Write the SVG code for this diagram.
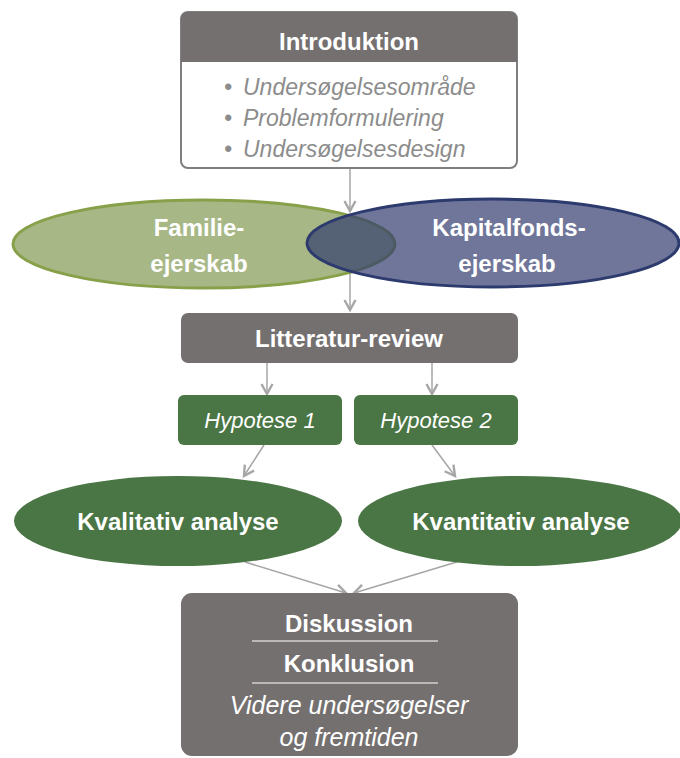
<svg xmlns="http://www.w3.org/2000/svg" width="680" height="758" viewBox="0 0 680 758">
<defs>
<marker id="arr" markerUnits="userSpaceOnUse" markerWidth="14" markerHeight="14" refX="11" refY="6" orient="auto" viewBox="0 0 14 12">
<path d="M1,0.5 L11,6 L1,11.5" fill="none" stroke="#a6a6a6" stroke-width="2.4" stroke-linejoin="miter"/>
</marker>
<style>
.conn{stroke:#a6a6a6;stroke-width:1.5;fill:none;marker-end:url(#arr)}
.gray{fill:#757070}
.dg{fill:#4a7544}
.bw{font-family:"Liberation Sans",Arial,sans-serif;font-weight:bold;font-size:24px;fill:#ffffff;text-anchor:middle}
.iw{font-family:"Liberation Sans",Arial,sans-serif;font-style:italic;font-size:22px;fill:#ffffff;text-anchor:middle}
.ig{font-family:"Liberation Sans",Arial,sans-serif;font-style:italic;font-size:23px;fill:#8c8c8c}
</style>
</defs>
<rect width="680" height="758" fill="#ffffff"/>

<g id="connectors">
<line class="conn" x1="350" y1="169" x2="350" y2="211"/>
<line class="conn" x1="350" y1="272" x2="350" y2="310"/>
<line class="conn" x1="267" y1="363" x2="267" y2="394"/>
<line class="conn" x1="432" y1="363" x2="432" y2="394"/>
<line class="conn" x1="264" y1="445" x2="244" y2="476"/>
<line class="conn" x1="432" y1="445" x2="455" y2="476"/>
<line class="conn" x1="245" y1="562" x2="346" y2="593"/>
<line class="conn" x1="460" y1="561" x2="354" y2="593"/>
</g>

<g id="introduktion">
<rect x="181" y="12" width="336" height="156" rx="7" fill="#ffffff" stroke="#7f7f7f" stroke-width="2"/>
<path d="M181,62 L181,19 Q181,12 188,12 L510,12 Q517,12 517,19 L517,62 Z" class="gray"/>
<text class="bw" x="349" y="50">Introduktion</text>
<text class="ig" x="224" y="95">•</text>
<text class="ig" x="243" y="95">Undersøgelsesområde</text>
<text class="ig" x="224" y="126">•</text>
<text class="ig" x="243" y="126">Problemformulering</text>
<text class="ig" x="224" y="157">•</text>
<text class="ig" x="243" y="157">Undersøgelsesdesign</text>
</g>

<g id="familieejerskab">
<ellipse cx="204" cy="244" rx="191" ry="44" fill="#a7b886" stroke="#88a04a" stroke-width="3"/>
</g>
<g id="kapitalfondsejerskab">
<ellipse cx="493" cy="243" rx="186" ry="44" fill="rgb(50,60,110)" fill-opacity="0.7" stroke="#2c3a6e" stroke-width="3"/>
<text class="bw" x="509" y="236">Kapitalfonds-</text>
<text class="bw" x="507" y="272">ejerskab</text>
</g>
<g id="familie-label">
<text class="bw" x="199" y="236">Familie-</text>
<text class="bw" x="199" y="272">ejerskab</text>
</g>

<g id="litteratur">
<rect x="181" y="313" width="337" height="50" rx="7" class="gray"/>
<text class="bw" x="349" y="347">Litteratur-review</text>
</g>

<g id="hypotese1">
<rect x="178" y="395" width="164" height="50" rx="6" class="dg"/>
<text class="iw" x="260" y="428">Hypotese 1</text>
</g>
<g id="hypotese2">
<rect x="354" y="395" width="164" height="50" rx="6" class="dg"/>
<text class="iw" x="436" y="428">Hypotese 2</text>
</g>

<g id="kvalitativ">
<ellipse cx="178" cy="521" rx="164" ry="45" class="dg"/>
<text class="bw" x="178" y="530">Kvalitativ analyse</text>
</g>
<g id="kvantitativ">
<ellipse cx="520" cy="521" rx="162" ry="45" class="dg"/>
<text class="bw" x="521" y="530">Kvantitativ analyse</text>
</g>

<g id="diskussion">
<rect x="181" y="593" width="337" height="163" rx="11" class="gray"/>
<text class="bw" x="349" y="632">Diskussion</text>
<line x1="252" y1="641" x2="438" y2="641" stroke="#ffffff" stroke-width="1"/>
<text class="bw" x="349" y="672">Konklusion</text>
<line x1="252" y1="683" x2="438" y2="683" stroke="#ffffff" stroke-width="1"/>
<text class="iw" x="349" y="714" style="font-size:25px">Videre undersøgelser</text>
<text class="iw" x="349" y="746" style="font-size:25px">og fremtiden</text>
</g>
</svg>
